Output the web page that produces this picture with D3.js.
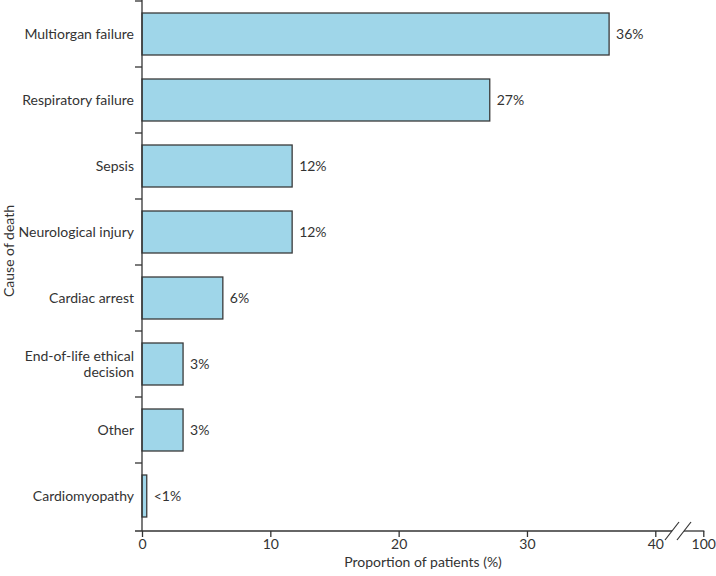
<!DOCTYPE html>
<html>
<head>
<meta charset="utf-8">
<script src="https://cdn.jsdelivr.net/npm/d3@7"></script>
<style>
  body { margin: 0; background: #fff; }
  svg text { font-family: Lato, "Open Sans", sans-serif; fill: #333; }
</style>
</head>
<body>
<svg id="chart" width="716" height="576"></svg>
<script>
// data
const causes = ['Multiorgan failure', 'Respiratory failure', 'Sepsis', 'Neurological injury',
  'Cardiac arrest', 'End-of-life ethical decision', 'Other', 'Cardiomyopathy'];
const proportions = [36.4, 27.1, 11.7, 11.7, 6.3, 3.2, 3.2, 0.37];
const valueLabels = ['36%', '27%', '12%', '12%', '6%', '3%', '3%', '<1%'];
const xTicks = [0, 10, 20, 30, 40, 100];

// layout
const axisX = 142, axisY = 531, plotTop = 1;
const ink = '#333';

const svg = d3.select('#chart');

// broken axis: 0-40 linear, then jump to 100
const x = d3.scaleLinear().domain([0, 40, 100]).range([axisX, 655.3, 703.3]);
const y = d3.scaleBand().domain(causes).range([plotTop, axisY - 2])
  .paddingInner(24 / 66).paddingOuter(12 / 66);

// bars
svg.append('g').selectAll('rect')
  .data(causes)
  .join('rect')
  .attr('x', axisX)
  .attr('y', d => y(d))
  .attr('width', (d, i) => x(proportions[i]) - axisX)
  .attr('height', y.bandwidth())
  .attr('fill', '#9fd6e9')
  .attr('stroke', '#3a3a3a')
  .attr('stroke-width', 1.3);

// value labels
svg.append('g').selectAll('text')
  .data(causes)
  .join('text')
  .attr('x', (d, i) => x(proportions[i]) + 7)
  .attr('y', d => y(d) + y.bandwidth() / 2)
  .attr('dy', '0.35em')
  .style('font-size', '14px')
  .text((d, i) => valueLabels[i]);

// y axis: line + ticks at band boundaries
const boundaries = causes.map(d => y(d) - y.step() * y.paddingInner() / 2);
const yAxis = svg.append('g');
yAxis.append('line')
  .attr('x1', axisX).attr('x2', axisX)
  .attr('y1', 0).attr('y2', axisY)
  .attr('stroke', ink).attr('stroke-width', 1.3);
yAxis.selectAll('.ytick')
  .data(boundaries)
  .join('line')
  .attr('class', 'ytick')
  .attr('x1', axisX - 7).attr('x2', axisX)
  .attr('y1', d => d).attr('y2', d => d)
  .attr('stroke', ink).attr('stroke-width', 1.3);

// category labels (wrap the long one)
const catLabels = yAxis.selectAll('.ylabel')
  .data(causes)
  .join('text')
  .attr('class', 'ylabel')
  .attr('text-anchor', 'end')
  .style('font-size', '14px')
  .attr('y', d => y(d) + y.bandwidth() / 2);
catLabels.each(function(d) {
  const t = d3.select(this);
  const lines = d === 'End-of-life ethical decision' ? ['End-of-life ethical', 'decision'] : [d];
  lines.forEach((ln, i) => {
    t.append('tspan')
      .attr('x', axisX - 8)
      .attr('dy', i === 0 ? (0.35 - (lines.length - 1) * 0.6) + 'em' : '1.2em')
      .text(ln);
  });
});

// x axis (ticks point down)
const xAxis = svg.append('g').attr('transform', `translate(0,${axisY})`)
  .call(d3.axisBottom(x).tickValues(xTicks).tickSize(6).tickSizeOuter(0).tickFormat(d3.format('d')));
xAxis.select('.domain').remove();
xAxis.selectAll('.tick line').attr('stroke', ink).attr('stroke-width', 1.3);
xAxis.selectAll('.tick text').attr('y', 8).attr('dy', '0.71em').style('font-size', '14px')
  .style('font-family', 'Lato, sans-serif').attr('fill', ink);

// axis line with break
const breakA = 672, breakB = 684;
svg.append('line').attr('x1', axisX - 7).attr('x2', breakA).attr('y1', axisY).attr('y2', axisY)
  .attr('stroke', ink).attr('stroke-width', 1.3);
svg.append('line').attr('x1', breakB).attr('x2', x(100) + 1).attr('y1', axisY).attr('y2', axisY)
  .attr('stroke', ink).attr('stroke-width', 1.3);
[breakA, breakB].forEach(bx => {
  svg.append('line')
    .attr('x1', bx - 7).attr('y1', axisY + 9)
    .attr('x2', bx + 7).attr('y2', axisY - 9)
    .attr('stroke', ink).attr('stroke-width', 1.2);
});

// axis titles
svg.append('text')
  .attr('x', 423).attr('y', 567)
  .attr('text-anchor', 'middle')
  .style('font-size', '14px')
  .text('Proportion of patients (%)');

svg.append('text')
  .attr('transform', 'translate(14,251) rotate(-90)')
  .attr('text-anchor', 'middle')
  .style('font-size', '14px')
  .text('Cause of death');
</script>
</body>
</html>
